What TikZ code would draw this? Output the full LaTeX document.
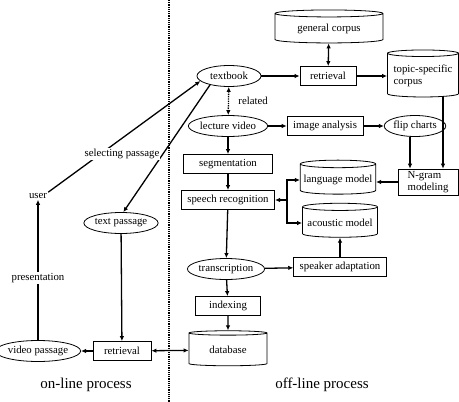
\documentclass[tikz,border=0pt]{standalone}
\usepackage{fontspec}
\setmainfont{Liberation Serif}
\usetikzlibrary{shapes.geometric,arrows.meta}

\begin{document}
\begin{tikzpicture}
  [x=1pt,y=-1pt,font=\fontsize{10.8}{12.5}\selectfont,
   box/.style={draw,line width=.8pt,rectangle,minimum height=19pt,inner xsep=6pt,inner ysep=2pt},
   oval/.style={draw,line width=.8pt,ellipse,inner sep=0pt,minimum height=21pt},
   store/.style={draw,line width=.8pt,cylinder,shape border rotate=90,aspect=.1},
   arr/.style={line width=1.3pt,-{Latex[length=5pt,width=4.5pt]}},
   dbl/.style={line width=1.3pt,{Latex[length=5pt,width=4.5pt]}-{Latex[length=5pt,width=4.5pt]}},
   tag/.style={fill=white,inner sep=1pt}]
  \useasboundingbox (0,0) rectangle (459,402);

  % off-line side
  \node[store,minimum width=108pt,minimum height=33pt] (gencorp) at (329,29) {general corpus};
  \node[box,minimum width=56pt] (retr) at (328,76) {retrieval};
  \node[store,minimum width=71pt,minimum height=47pt,align=left] (topic) at (423,76) {topic-specific\\corpus};
  \node[oval,minimum width=64pt] (textbook) at (229,76) {textbook};
  \node[oval] (lecture) at (228,126) {lecture video};
  \node[box] (imgana) at (325,126) {image analysis};
  \node[oval] (flip) at (415,126) {flip charts};
  \node[box,minimum width=89pt] (segm) at (228,164) {segmentation};
  \node[box,minimum width=89pt] (speech) at (228,200) {speech recognition};
  \node[store,minimum width=70pt,minimum height=34pt] (langmod) at (338,180) {language model};
  \node[store,minimum width=75pt,minimum height=34pt] (acmod) at (340,223) {acoustic model};
  \node[box,align=left,minimum width=60pt] (ngram) at (428,182) {N-gram\\modeling};
  \node[oval] (transcr) at (226,269) {transcription};
  \node[box] (spkadapt) at (340,267) {speaker adaptation};
  \node[box,minimum width=65pt] (indexing) at (228,306) {indexing};
  \node[store,minimum width=78pt,minimum height=35pt] (database) at (228,350) {database};

  % on-line side
  \node[box,minimum width=58pt] (retrieval2) at (122,351) {retrieval};
  \node[oval] (vidpass) at (38,351) {video passage};
  \node[oval] (textpass) at (121,223) {text passage};
  \node[inner sep=1pt] (user) at (38,196) {user};
  \coordinate (jct) at (287,200);

  \foreach \from/\to in {textbook/retr,retr/topic,lecture/imgana,imgana/flip,lecture/segm,segm/speech,speech/transcr,transcr/indexing,indexing/database,transcr/spkadapt,spkadapt/acmod,textpass/retrieval2,retrieval2/vidpass,vidpass/user}
    \draw[arr] (\from) -- (\to);

  \draw[arr] (ngram.west) -- (langmod.east |- ngram.west);
  \draw[arr] ([xshift=20pt]topic.south) -- ([xshift=20pt]topic.south |- ngram.north);
  \draw[arr] ([xshift=-5pt]flip.south) -- ([xshift=-5pt]flip.south |- ngram.north);
  \draw[arr] (jct) -- (speech);
  \draw[arr] (jct) |- (langmod);
  \draw[arr] (jct) |- (acmod);
  \draw[dbl] (gencorp) -- (retr);
  \draw[dbl] (retrieval2) -- (database);
  \draw[dbl,densely dotted] (textbook) -- node[right=6pt] (related) {related} (lecture);
  \draw[arr] (user.north east) -- (textbook.190);
  \draw[arr] (textbook.205) -- (textpass.78);

  \node[tag] (select) at (122,154) {selecting passage};
  \node[tag] (present) at (38,278) {presentation};

  \draw[line width=1.2pt,densely dotted] (169,0) -- (169,402);
  \node[font=\fontsize{15}{18}\selectfont] (online) at (86,385) {on-line process};
  \node[font=\fontsize{15}{18}\selectfont] (offline) at (322,385) {off-line process};
\end{tikzpicture}
\end{document}
